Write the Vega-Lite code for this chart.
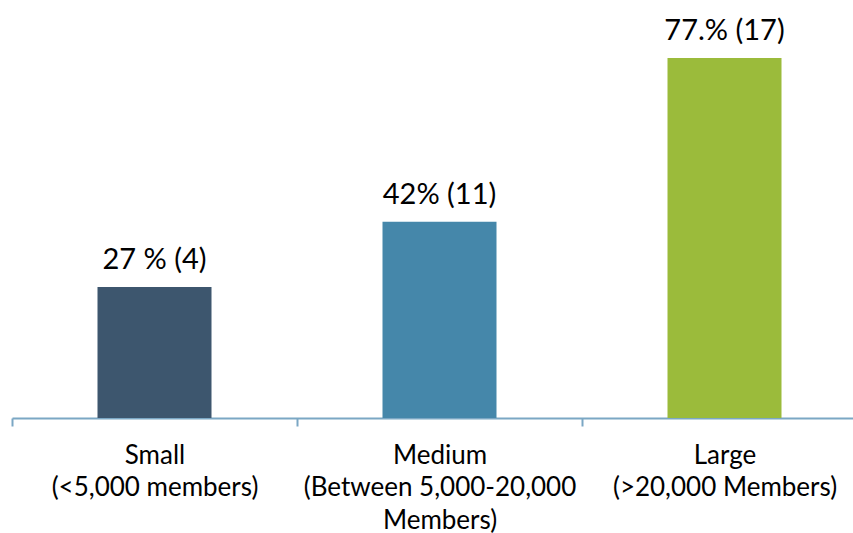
{
  "$schema": "https://vega.github.io/schema/vega-lite/v6.json",
  "autosize": "none",
  "width": 855,
  "height": 374,
  "padding": {"left": 12, "top": 44, "right": 0, "bottom": 115},
  "background": "white",
  "config": {
    "view": {"stroke": null},
    "font": "Lato"
  },
  "data": {
    "values": [
      {"category": "Small|(<5,000 members)", "pct": 28, "label": "27 % (4)", "color": "#3D566E"},
      {"category": "Medium|(Between 5,000-20,000|Members)", "pct": 42, "label": "42% (11)", "color": "#4587AA"},
      {"category": "Large|(>20,000 Members)", "pct": 77, "label": "77.% (17)", "color": "#9BBB3B"}
    ]
  },
  "encoding": {
    "x": {
      "field": "category",
      "type": "nominal",
      "sort": null,
      "scale": {"paddingInner": 0, "paddingOuter": 0},
      "axis": {
        "title": null,
        "labelAngle": 0,
        "labelExpr": "split(datum.label, '|')",
        "labelFont": "Lato",
        "labelFontSize": 26,
        "labelLineHeight": 32.5,
        "labelLimit": 0,
        "labelColor": "#000000",
        "labelPadding": 16,
        "labelBaseline": "top",
        "tickBand": "extent",
        "tickSize": 8,
        "tickColor": "#7BA7C4",
        "tickWidth": 2,
        "domainColor": "#7BA7C4",
        "domainWidth": 2,
        "grid": false
      }
    },
    "y": {
      "field": "pct",
      "type": "quantitative",
      "scale": {"domain": [0, 80]},
      "axis": null
    }
  },
  "layer": [
    {
      "mark": {"type": "bar", "width": {"band": 0.4}},
      "encoding": {
        "color": {"field": "color", "type": "nominal", "scale": null}
      }
    },
    {
      "mark": {"type": "text", "dy": -18, "baseline": "alphabetic", "fontSize": 29, "font": "Lato", "color": "#000000"},
      "encoding": {
        "text": {"field": "label"}
      }
    }
  ]
}
